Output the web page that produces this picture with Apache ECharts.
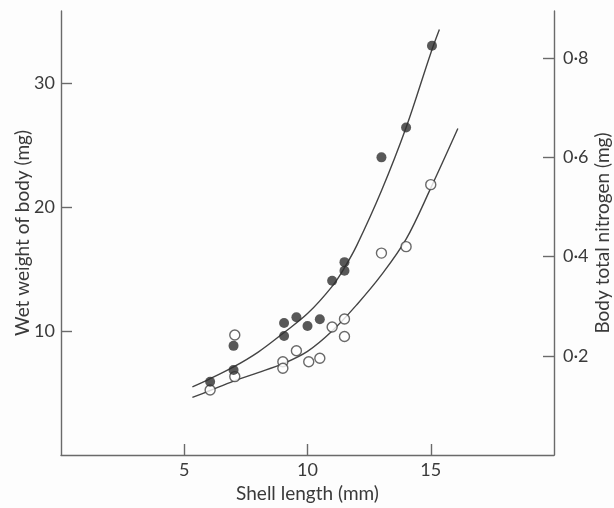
<!DOCTYPE html>
<html>
<head>
<meta charset="utf-8">
<script src="https://cdn.jsdelivr.net/npm/echarts@6/dist/echarts.min.js"></script>
<style>
  html, body { margin: 0; padding: 0; background: #fdfdfd; }
  #chart { width: 614px; height: 508px; }
</style>
</head>
<body>
<div id="chart"></div>
<script>
// shell length (mm) of each animal
const shellLength = [6.05, 7.0, 7.0, 9.05, 9.05, 9.55, 10.0, 10.5, 11.0, 11.5, 11.5, 13.0, 14.0, 15.05]
// wet weight of body (mg), filled circles, left axis
const wetWeight = [5.9, 8.8, 6.85, 10.65, 9.6, 11.1, 10.4, 10.95, 14.05, 15.55, 14.85, 24.0, 26.4, 33.0]
// body total nitrogen (mg), open circles, right axis
const nitrogenLength = [6.05, 7.05, 7.05, 9.0, 9.0, 9.55, 10.05, 10.5, 11.0, 11.5, 11.5, 13.0, 14.0, 15.0]
const nitrogen = [0.131, 0.242, 0.158, 0.188, 0.175, 0.21, 0.188, 0.195, 0.258, 0.274, 0.239, 0.407, 0.42, 0.545]

// fitted curves
const wetCurveX = [5.33, 6, 7, 8, 9, 10, 11, 11.5, 12, 13, 14, 15, 15.35]
const wetCurveY = [5.5, 6.1, 7.1, 8.3, 9.8, 11.4, 13.6, 15.1, 16.9, 21.3, 26.4, 32.4, 34.3]
const nCurveX = [5.33, 6, 7, 8, 9, 10, 11, 12, 13, 14, 15, 16.1]
const nCurveY = [0.116, 0.129, 0.149, 0.166, 0.184, 0.209, 0.25, 0.303, 0.363, 0.435, 0.538, 0.658]

const xTicks = [5, 10, 15]
const leftTicks = [10, 20, 30]
const rightTicks = [0.2, 0.4, 0.6, 0.8]

const ink = '#3a3a3a'
const axisColor = '#6a6a6a'
const font = 'Lato, "Open Sans", sans-serif'

const zip = (xs, ys) => xs.map((x, i) => [x, ys[i]])

const chart = echarts.init(document.getElementById('chart'), null, { renderer: 'canvas' })

const axisCommon = {
  axisLine: { show: true, lineStyle: { color: axisColor, width: 1.4 } },
  axisTick: { show: true, inside: true, length: 11, lineStyle: { color: axisColor, width: 1.4 } },
  splitLine: { show: false },
  nameMoveOverlap: false,
  nameTextStyle: { color: ink, fontFamily: font, fontSize: 19 },
}

chart.setOption({
  backgroundColor: '#fdfdfd',
  animation: false,
  grid: { left: 61, right: 60, top: 11, bottom: 53, outerBoundsMode: 'none' },
  xAxis: {
    ...axisCommon,
    type: 'value',
    min: 0,
    max: 20,
    name: 'Shell length (mm)',
    nameLocation: 'middle',
    nameGap: 29,
    axisTick: { ...axisCommon.axisTick, customValues: xTicks },
    axisLabel: { customValues: xTicks, color: ink, fontFamily: font, fontSize: 18, margin: 6 },
  },
  yAxis: [
    {
      ...axisCommon,
      type: 'value',
      position: 'left',
      min: 0,
      max: 35.8,
      name: 'Wet weight of body (mg)',
      nameLocation: 'middle',
      nameRotate: 90,
      nameGap: 29,
      axisTick: { ...axisCommon.axisTick, customValues: leftTicks },
      axisLabel: { customValues: leftTicks, color: ink, fontFamily: font, fontSize: 18, margin: 6 },
    },
    {
      ...axisCommon,
      type: 'value',
      position: 'right',
      min: 0,
      max: 0.895,
      name: 'Body total nitrogen (mg)',
      nameLocation: 'middle',
      nameRotate: 90,
      nameGap: 39,
      axisTick: { ...axisCommon.axisTick, customValues: rightTicks },
      axisLabel: {
        customValues: rightTicks,
        color: ink,
        fontFamily: font,
        fontSize: 18,
        margin: 9,
        formatter: (v) => v.toFixed(1).replace('.', '·'),
      },
    },
  ],
  series: [
    {
      type: 'line',
      yAxisIndex: 0,
      data: zip(wetCurveX, wetCurveY),
      smooth: 0.35,
      showSymbol: false,
      lineStyle: { color: '#444', width: 1.4 },
      z: 1,
    },
    {
      type: 'line',
      yAxisIndex: 1,
      data: zip(nCurveX, nCurveY),
      smooth: 0.35,
      showSymbol: false,
      lineStyle: { color: '#444', width: 1.4 },
      z: 1,
    },
    {
      type: 'scatter',
      yAxisIndex: 1,
      data: zip(nitrogenLength, nitrogen),
      symbol: 'circle',
      symbolSize: 10,
      itemStyle: { color: '#ffffff', borderColor: '#444', borderWidth: 1.4 },
      z: 3,
    },
    {
      type: 'scatter',
      yAxisIndex: 0,
      data: zip(shellLength, wetWeight),
      symbol: 'circle',
      symbolSize: 10,
      itemStyle: { color: '#2e2e2e' },
      z: 4,
    },
  ],
})
</script>
</body>
</html>
